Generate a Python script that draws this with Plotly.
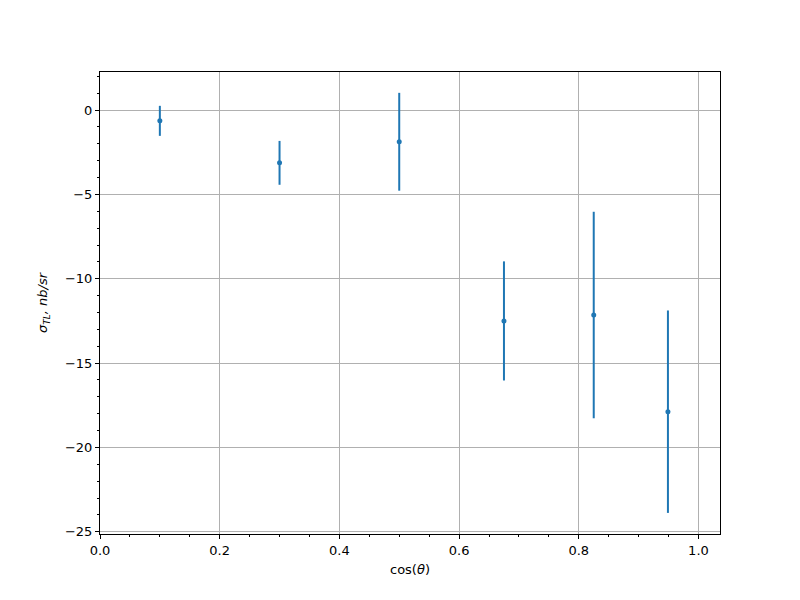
import plotly.graph_objects as go

cos_theta = [0.1, 0.3, 0.5, 0.675, 0.825, 0.949]
sigma_tl = [-0.64, -3.13, -1.88, -12.5, -12.15, -17.88]
sigma_err = [0.89, 1.3, 2.9, 3.53, 6.12, 6.0]

x_ticks = [0.0, 0.2, 0.4, 0.6, 0.8, 1.0]
x_tick_labels = ["0.0", "0.2", "0.4", "0.6", "0.8", "1.0"]
y_ticks = [0, -5, -10, -15, -20, -25]
y_tick_labels = ["0", "\u22125", "\u221210", "\u221215", "\u221220", "\u221225"]

color = "#1f77b4"
font = "DejaVu Sans"

fig = go.Figure()
fig.add_trace(go.Scatter(
    x=cos_theta, y=sigma_tl, mode="markers",
    marker=dict(color=color, size=5),
    error_y=dict(type="data", array=sigma_err, visible=True,
                 color=color, thickness=2, width=0),
    showlegend=False,
))

axis_common = dict(
    showline=True, linecolor="black", linewidth=1, mirror=True,
    showgrid=True, gridcolor="#b0b0b0", gridwidth=0.8,
    ticks="outside", ticklen=4, tickwidth=1, tickcolor="black",
    zeroline=False,
    tickfont=dict(family=font, size=13, color="black"),
)

fig.update_layout(
    width=800, height=600,
    margin=dict(l=92, r=88, t=64, b=74),
    paper_bgcolor="white", plot_bgcolor="white",
    font=dict(family=font, size=13, color="black"),
    xaxis=dict(
        range=[0, 1.036],
        tickvals=x_ticks, ticktext=x_tick_labels,
        minor=dict(dtick=0.05, tick0=0, ticks="outside", ticklen=2,
                   tickcolor="black", showgrid=False),
        title=dict(text="cos(<i>θ</i>)", font=dict(family=font, size=13), standoff=8),
        **axis_common,
    ),
    yaxis=dict(
        range=[-25.13, 2.255],
        tickvals=y_ticks, ticktext=y_tick_labels,
        minor=dict(dtick=1, tick0=0, ticks="outside", ticklen=2,
                   tickcolor="black", showgrid=False),
        title=dict(text="<i>σ<sub>TL</sub>, nb/sr</i>", font=dict(family=font, size=13), standoff=14),
        **axis_common,
    ),
)

fig.write_html("out.html")
